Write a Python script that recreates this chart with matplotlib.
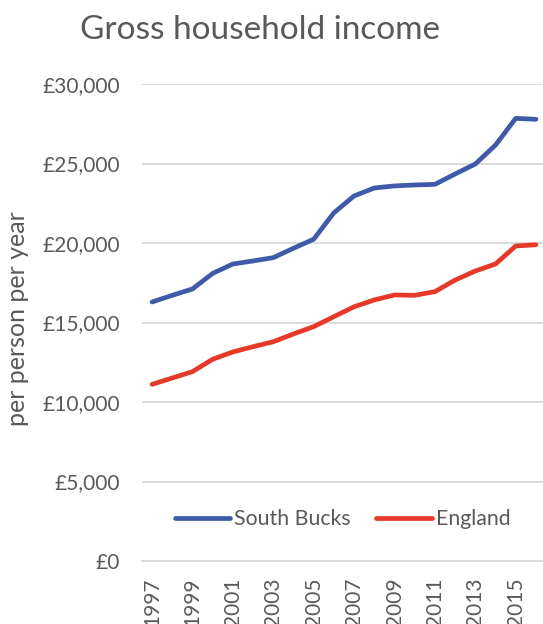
import matplotlib
matplotlib.use("Agg")
import matplotlib.pyplot as plt
from matplotlib.ticker import FuncFormatter, MultipleLocator

plt.rcParams["font.family"] = ["Lato", "DejaVu Sans"]

years = list(range(1997, 2017))
south_bucks = [16290, 16710, 17110, 18090, 18680, 18870, 19080, 19670, 20240, 21900,
               22960, 23460, 23590, 23650, 23690, 24340, 24970, 26160, 27840, 27780]
england = [11110, 11510, 11910, 12690, 13150, 13480, 13790, 14280, 14740, 15370,
           15990, 16420, 16730, 16710, 16940, 17670, 18240, 18680, 19810, 19890]
year_labels = [str(y) if (y - 1997) % 2 == 0 else "" for y in years]

TEXT = "#595959"
BLUE = "#3F5AA8"
RED = "#E6392A"

fig = plt.figure(figsize=(5.43, 6.24), dpi=100)
ax = fig.add_axes([142 / 543, 1 - 561 / 624, (543 - 142) / 543, (561 - 84) / 624])

ax.plot(years, south_bucks, color=BLUE, linewidth=3.4, solid_capstyle="round",
        solid_joinstyle="round", label="South Bucks")
ax.plot(years, england, color=RED, linewidth=3.4, solid_capstyle="round",
        solid_joinstyle="round", label="England")

ax.set_xlim(1996.5, 2016.35)
ax.set_ylim(0, 30000)
ax.yaxis.set_major_locator(MultipleLocator(5000))
ax.yaxis.set_major_formatter(FuncFormatter(lambda v, p: f"£{int(v):,}"))
ax.set_xticks(years)
ax.set_xticklabels(year_labels, rotation=90, va="top")

ax.grid(axis="y", color="#D9D9D9", linewidth=1.3)
ax.set_axisbelow(True)
for side in ["top", "right", "left"]:
    ax.spines[side].set_visible(False)
ax.spines["bottom"].set_color("#D9D9D9")
ax.spines["bottom"].set_linewidth(1.3)
ax.tick_params(axis="both", length=0, colors=TEXT, labelsize=15)
ax.tick_params(axis="y", pad=16)
ax.tick_params(axis="x", pad=12)

ax.set_ylabel("per person per year", color=TEXT, fontsize=18)
ax.yaxis.set_label_coords(-0.282, 0.508)

ax.legend(loc="center", bbox_to_anchor=(0.5, 0.088), ncol=2, frameon=False,
          fontsize=15.3, labelcolor=TEXT, handlelength=2.6, handletextpad=0.2,
          columnspacing=1.2)

fig.text(260 / 543, 1 - 30 / 624, "Gross household income", ha="center", va="center",
         fontsize=24, color=TEXT)

fig.savefig("out.png", dpi=100)
